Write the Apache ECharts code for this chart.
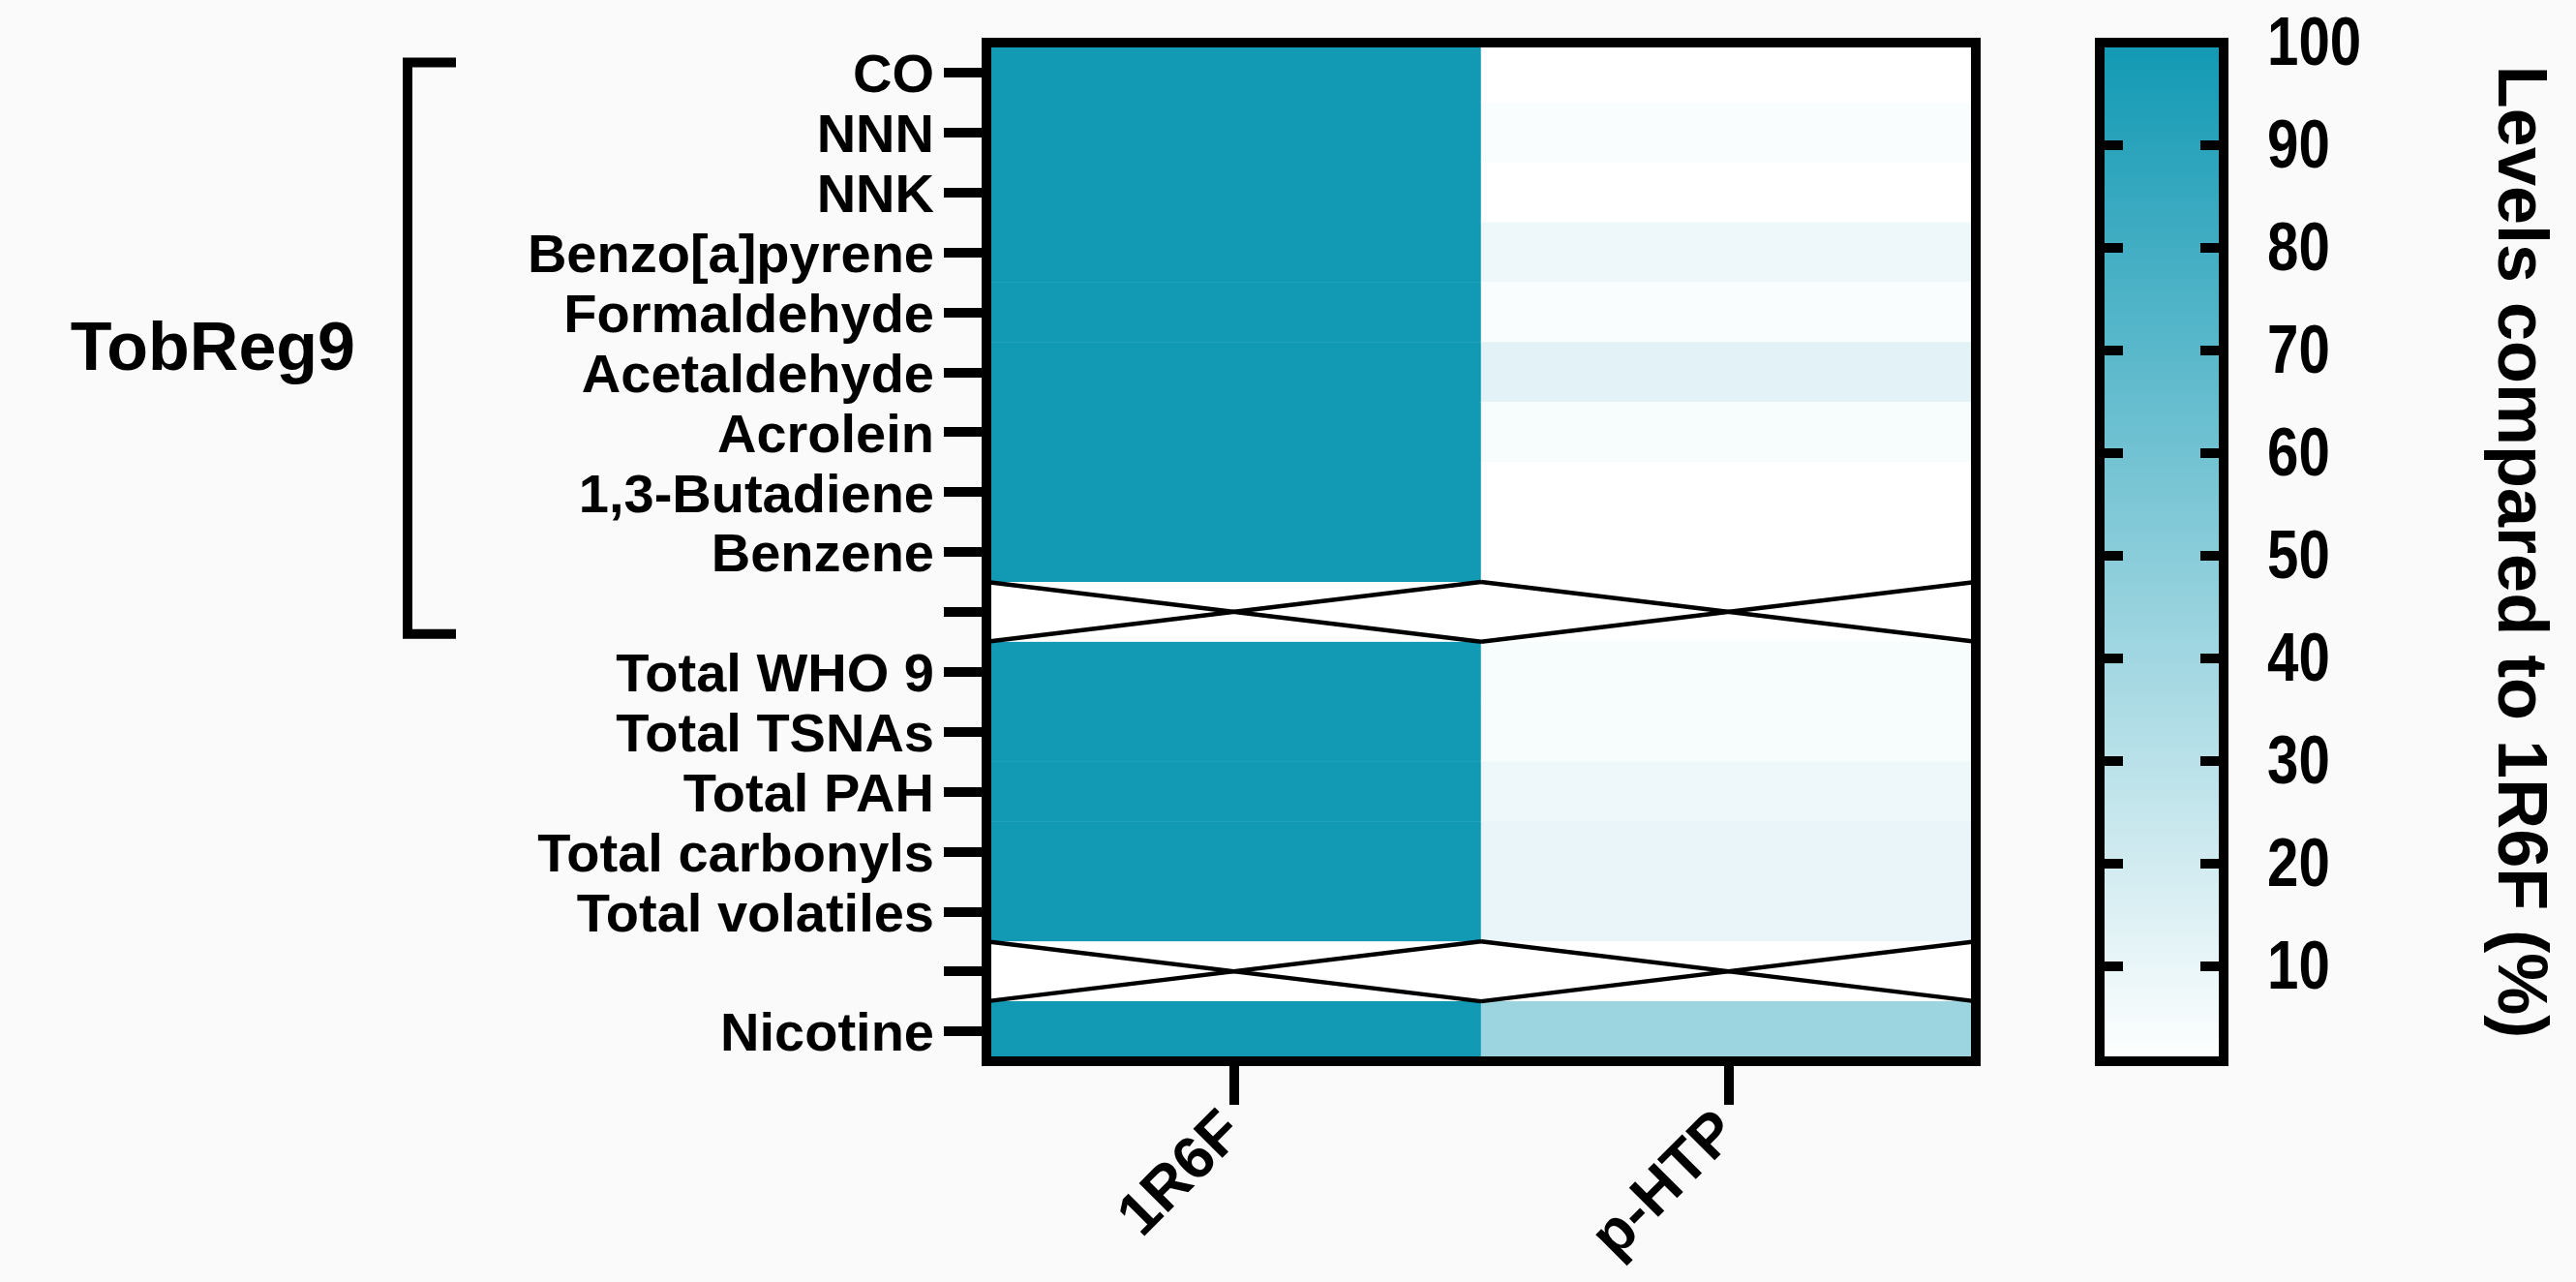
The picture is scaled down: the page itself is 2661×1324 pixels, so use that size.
<!DOCTYPE html>
<html>
<head>
<meta charset="utf-8">
<script src="https://cdn.jsdelivr.net/npm/echarts@6/dist/echarts.min.js"></script>
<style>
html,body{margin:0;padding:0;background:#fafafa;}
#chart{width:2661px;height:1324px;}
</style>
</head>
<body>
<div id="chart"></div>
<script>
// ---- data ----
const products = ['1R6F', 'p-HTP'];
const rows = ['CO', 'NNN', 'NNK', 'Benzo[a]pyrene', 'Formaldehyde', 'Acetaldehyde', 'Acrolein',
  '1,3-Butadiene', 'Benzene', '', 'Total WHO 9', 'Total TSNAs', 'Total PAH', 'Total carbonyls',
  'Total volatiles', '', 'Nicotine'];
// levels compared to 1R6F (%); null = no value (separator row)
const levels1R6F = [100, 100, 100, 100, 100, 100, 100, 100, 100, null, 100, 100, 100, 100, 100, null, 100];
const levelsPHTP = [0.8, 3, 0.9, 8, 3, 13, 4, 0.8, 0.8, null, 4, 4, 8, 10, 10, null, 42];
const colorTicks = [10, 20, 30, 40, 50, 60, 70, 80, 90];
const colorLabels = [10, 20, 30, 40, 50, 60, 70, 80, 90, 100];
const colorMin = 0.75, colorMax = 100;
const groupLabel = 'TobReg9';
const colorTitle = 'Levels compared to 1R6F (%)';

const colorLow = '#ffffff', colorHigh = '#1299b4';
const FONT = "'Liberation Sans', Arial, Helvetica, sans-serif";

const series1 = [levels1R6F, levelsPHTP];
const heatData = [];
const missing = [];
series1.forEach((vals, xi) => {
  vals.forEach((v, yi) => {
    if (v === null) missing.push([xi, yi]);
    else heatData.push([xi, yi, v]);
  });
});

const chart = echarts.init(document.getElementById('chart'), null, {renderer: 'canvas'});
const frameLine = {show: true, onZero: false, lineStyle: {color: '#000', width: 10, cap: 'square'}};

const option = {
  backgroundColor: '#fafafa',
  animation: false,
  textStyle: {fontFamily: FONT},
  grid: [
    {left: 1019, top: 44, width: 1022, height: 1052, show: true, backgroundColor: '#ffffff', borderWidth: 0},
    {left: 2169, top: 44, width: 128, height: 1052, show: false}
  ],
  xAxis: [
    {gridIndex: 0, type: 'category', data: products, position: 'bottom', z: 10,
      axisLine: frameLine,
      axisTick: {show: true, alignWithLabel: true, length: 45, lineStyle: {color: '#000', width: 10}},
      axisLabel: {rotate: 45, interval: 0, fontSize: 62, fontWeight: 'bold', color: '#000', margin: 64, fontFamily: FONT},
      splitLine: {show: false}},
    {gridIndex: 0, type: 'category', data: products, position: 'top', z: 10,
      axisLine: frameLine, axisTick: {show: false}, axisLabel: {show: false}, splitLine: {show: false}},
    {gridIndex: 1, type: 'value', min: 0, max: 1, position: 'bottom', z: 10,
      axisLine: frameLine, axisTick: {show: false}, axisLabel: {show: false}, splitLine: {show: false}},
    {gridIndex: 1, type: 'value', min: 0, max: 1, position: 'top', z: 10,
      axisLine: frameLine, axisTick: {show: false}, axisLabel: {show: false}, splitLine: {show: false}}
  ],
  yAxis: [
    {gridIndex: 0, type: 'category', data: rows, inverse: true, position: 'left', z: 10,
      axisLine: frameLine,
      axisTick: {show: true, alignWithLabel: true, interval: 0, length: 44, lineStyle: {color: '#000', width: 10}},
      axisLabel: {interval: 0, fontSize: 56, fontWeight: 'bold', color: '#000', margin: 54, fontFamily: FONT,
        verticalAlign: 'top', lineHeight: 10},
      splitLine: {show: false}},
    {gridIndex: 0, type: 'category', data: rows, inverse: true, position: 'right', z: 10,
      axisLine: frameLine, axisTick: {show: false}, axisLabel: {show: false}, splitLine: {show: false}},
    {gridIndex: 1, type: 'value', min: colorMin, max: colorMax, position: 'left', z: 10,
      axisLine: frameLine,
      axisTick: {show: true, inside: true, length: 24, customValues: colorTicks, lineStyle: {color: '#000', width: 10}},
      axisLabel: {show: false}, splitLine: {show: false}},
    {gridIndex: 1, type: 'value', min: colorMin, max: colorMax, position: 'right', z: 10,
      axisLine: frameLine,
      axisTick: {show: true, inside: true, length: 24, customValues: colorTicks, lineStyle: {color: '#000', width: 10}},
      axisLabel: {show: false},
      splitLine: {show: false},
      name: colorTitle, nameLocation: 'middle', nameRotate: -90, nameGap: 268,
      nameTextStyle: {fontSize: 72, fontWeight: 'bold', color: '#000', fontFamily: FONT}}
  ],
  visualMap: {show: false, type: 'continuous', min: colorMin, max: colorMax, dimension: 2, seriesIndex: 0,
    inRange: {color: [colorLow, colorHigh]}},
  series: [
    {type: 'heatmap', xAxisIndex: 0, yAxisIndex: 0, data: heatData, itemStyle: {borderWidth: 0}, emphasis: {disabled: true}},
    {type: 'custom', xAxisIndex: 0, yAxisIndex: 0, data: missing, z: 5, silent: true,
      renderItem: function (params, api) {
        const c = api.coord([api.value(0), api.value(1)]);
        const s = api.size([1, 1]);
        const x0 = c[0] - s[0] / 2, x1 = c[0] + s[0] / 2, y0 = c[1] - s[1] / 2, y1 = c[1] + s[1] / 2;
        return {type: 'group', children: [
          {type: 'rect', shape: {x: x0, y: y0, width: s[0], height: s[1]}, style: {fill: '#ffffff'}},
          {type: 'line', shape: {x1: x0, y1: y0, x2: x1, y2: y1}, style: {stroke: '#000', lineWidth: 4.5}},
          {type: 'line', shape: {x1: x0, y1: y1, x2: x1, y2: y0}, style: {stroke: '#000', lineWidth: 4.5}}
        ]};
      }},
    {type: 'custom', xAxisIndex: 2, yAxisIndex: 2, data: [[0, colorMin, colorMax]], silent: true,
      encode: {x: 0, y: 1},
      renderItem: function (params, api) {
        const p0 = api.coord([0, api.value(2)]);
        const p1 = api.coord([1, api.value(1)]);
        return {type: 'rect', shape: {x: p0[0], y: p0[1], width: p1[0] - p0[0], height: p1[1] - p0[1]},
          style: {fill: new echarts.graphic.LinearGradient(0, 0, 0, 1, [
            {offset: 0, color: colorHigh}, {offset: 1, color: colorLow}])}};
      }},
    // colour-scale tick labels (narrow bold digits)
    {type: 'custom', xAxisIndex: 2, yAxisIndex: 2, data: colorLabels.map(v => [1, v]), silent: true, clip: false,
      encode: {x: 0, y: 1}, z: 12,
      renderItem: function (params, api) {
        const p = api.coord([api.value(0), api.value(1)]);
        return {type: 'text', x: p[0] + 45, y: p[1] + 3, scaleX: 0.82, scaleY: 1,
          style: {text: String(api.value(1)), fontSize: 71, fontWeight: 'bold', fill: '#000', fontFamily: FONT,
            align: 'left', verticalAlign: 'middle'}};
      }}
  ]
};
chart.setOption(option);

// group bracket & label, placed from the category scale
const yFirst = chart.convertToPixel({yAxisIndex: 0}, 0);
const yBlank = chart.convertToPixel({yAxisIndex: 0}, 9);
const pitch = chart.convertToPixel({yAxisIndex: 0}, 1) - yFirst;
const bTop = yFirst - 0.17 * pitch;
const bBot = yBlank + 0.37 * pitch;
chart.setOption({
  graphic: [
    {type: 'polyline', shape: {points: [[471, bTop], [421, bTop], [421, bBot], [471, bBot]]},
      style: {stroke: '#000', lineWidth: 10, fill: null}},
    {type: 'text', x: 367, y: (bTop + bBot) / 2 + 3,
      style: {text: groupLabel, fontSize: 70, fontWeight: 'bold', fill: '#000', fontFamily: FONT,
        align: 'right', verticalAlign: 'middle'}}
  ]
});
</script>
</body>
</html>
